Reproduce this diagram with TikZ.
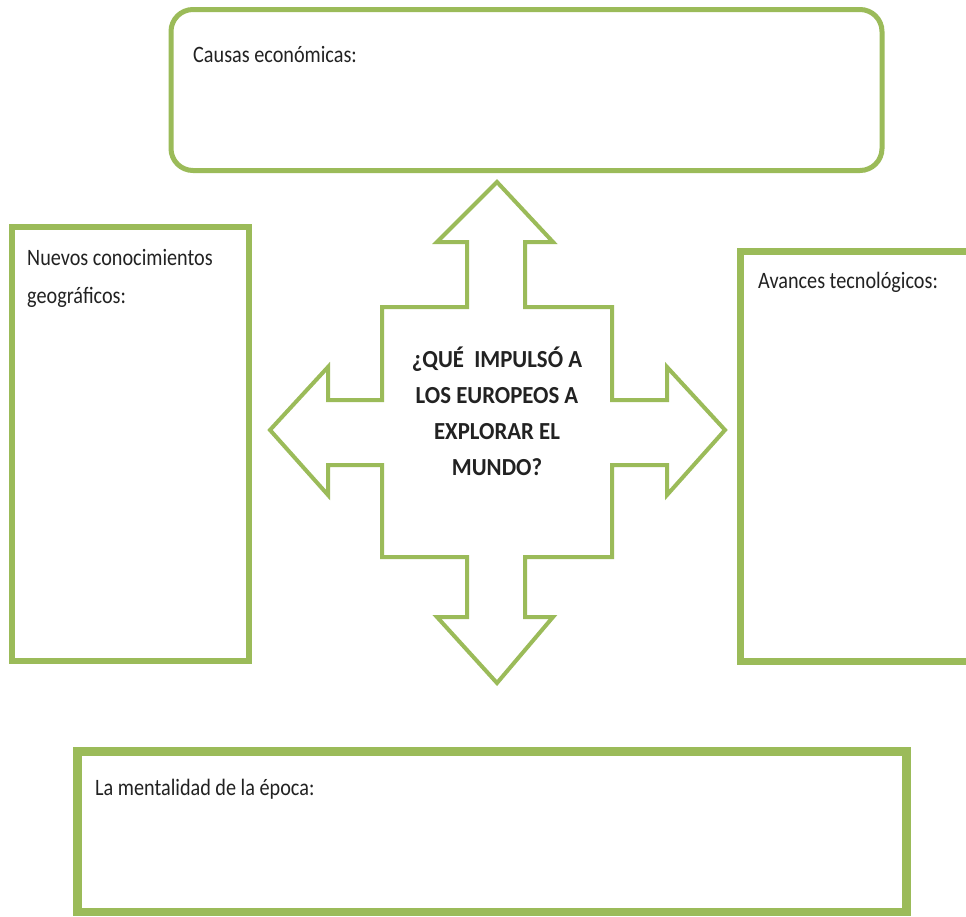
\documentclass[tikz,border=0pt]{standalone}
\usepackage{fontspec}
\setmainfont{Carlito}
\usepackage{graphicx}
\definecolor{boxgreen}{HTML}{9BBB59}
\definecolor{textgray}{HTML}{222222}
\newcommand{\sx}[1]{\scalebox{0.86}[1]{#1}}
\newcommand{\sxx}[1]{\scalebox{0.93}[1]{#1}}
\tikzset{
  frame/.style={draw=boxgreen, fill=white, inner sep=0pt, outer sep=0pt},
  lbl/.style={anchor=base west, inner sep=0pt, text=textgray, font=\fontsize{23.5}{28}\selectfont},
  qtext/.style={align=center, inner sep=0pt, text=textgray, font=\bfseries\fontsize{24.5}{36}\selectfont},
  crossarrow/.style={draw=boxgreen, fill=white, line width=4pt, line join=miter}
}
\begin{document}
\begin{tikzpicture}[x=1pt,y=-1pt]
\useasboundingbox (0,0) rectangle (966,916);
\clip (0,0) rectangle (966,916);
\fill[white] (0,0) rectangle (966,916);
% boxes
\node[frame, line width=5pt, rounded corners=22pt, minimum width=711pt, minimum height=161pt] (econ) at (526.5,90) {};
\node[frame, line width=6pt, minimum width=237pt, minimum height=434pt] (geo) at (130.5,444) {};
\node[frame, line width=7pt, minimum width=270pt, minimum height=410pt] (tec) at (875.5,456) {};
\node[frame, line width=8.5pt, minimum width=829pt, minimum height=160.5pt] (ment) at (492,831.75) {};
% four-way arrow
\draw[crossarrow] (497,182) -- (553,242) -- (525,242) -- (525,307) -- (612,307) -- (612,400)
  -- (667,400) -- (667,367) -- (725,430) -- (667,495) -- (667,465) -- (612,465) -- (612,557)
  -- (525,557) -- (525,617) -- (553,617) -- (497,683) -- (437,617) -- (467,617) -- (467,557)
  -- (382,557) -- (382,465) -- (328,465) -- (328,495) -- (270,430) -- (328,367) -- (328,400)
  -- (382,400) -- (382,307) -- (467,307) -- (467,242) -- (437,242) -- cycle;
% texts
\node[qtext] (q) at (497,411) {\sxx{¿QUÉ\ \ IMPULSÓ A}\\ \sxx{LOS EUROPEOS A}\\ \sxx{EXPLORAR EL}\\ \sxx{MUNDO?}};
\node[lbl] (l1) at (193,62) {\sx{Causas económicas:}};
\node[lbl] (l2) at (27,265) {\sx{Nuevos conocimientos}};
\node[lbl] (l3) at (27,303) {\sx{geográficos:}};
\node[lbl] (l4) at (758,288) {\sx{Avances tecnológicos:}};
\node[lbl] (l5) at (95,795) {\sx{La mentalidad de la época:}};
\end{tikzpicture}
\end{document}
